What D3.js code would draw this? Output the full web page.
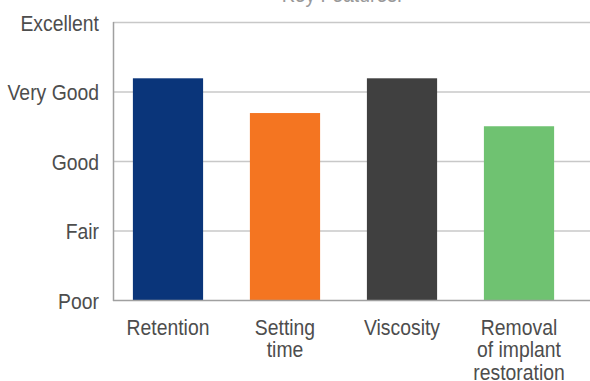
<!DOCTYPE html>
<html>
<head>
<meta charset="utf-8">
<script src="https://cdn.jsdelivr.net/npm/d3@7"></script>
<style>
  body { margin: 0; background: #fff; }
  text { font-family: "Liberation Sans", Arial, sans-serif; }
</style>
</head>
<body>
<svg id="chart" width="590" height="381"></svg>
<script>
// data (0 = Poor ... 4 = Excellent)
var categories = ["Retention", "Setting time", "Viscosity", "Removal of implant restoration"]
var labelLines = [["Retention"], ["Setting", "time"], ["Viscosity"], ["Removal", "of implant", "restoration"]]
var ratings = [3.19, 2.69, 3.19, 2.5]
var barColors = ["#0a357a", "#f47521", "#404040", "#6fc271"]
var tickLabels = ["Poor", "Fair", "Good", "Very Good", "Excellent"]
var title = "Key Features:"

var svg = d3.select("#chart")
var plotLeft = 113, plotRight = 574, plotTop = 22, plotBottom = 300
var squeeze = 0.88   // the original font is a condensed face

var x = d3.scaleBand()
  .domain(categories)
  .range([plotLeft, plotRight])
  .paddingInner(0.4)
  .paddingOuter(0.17)

var y = d3.scaleLinear()
  .domain([0, 4])
  .range([plotBottom, plotTop])

// title, mostly cut off at the top
svg.append("text")
  .attr("transform", "translate(342,1.5) scale(" + squeeze + ",1)")
  .attr("text-anchor", "middle")
  .style("font-size", "22px")
  .style("fill", "#999")
  .text(title)

// grid lines
svg.append("g")
  .selectAll("line")
  .data(d3.range(1, 5))
  .enter()
  .append("line")
    .attr("x1", plotLeft)
    .attr("x2", 590)
    .attr("y1", function (d) { return y(d) + 0.5 })
    .attr("y2", function (d) { return y(d) + 0.5 })
    .style("stroke", "#c8c8c8")
    .style("stroke-width", 1.5)

// bars
svg.append("g")
  .selectAll("rect")
  .data(ratings)
  .enter()
  .append("rect")
    .attr("x", function (d, i) { return x(categories[i]) })
    .attr("y", function (d) { return y(d) })
    .attr("width", x.bandwidth())
    .attr("height", function (d) { return y(0) - y(d) })
    .style("fill", function (d, i) { return barColors[i] })

// axis lines
svg.append("line")
  .attr("x1", plotLeft + 0.5).attr("x2", plotLeft + 0.5)
  .attr("y1", plotTop).attr("y2", plotBottom + 1)
  .style("stroke", "#a0a0a0")
  .style("stroke-width", 1.5)
svg.append("line")
  .attr("x1", plotLeft).attr("x2", 590)
  .attr("y1", plotBottom + 0.5).attr("y2", plotBottom + 0.5)
  .style("stroke", "#a0a0a0")
  .style("stroke-width", 1.5)

// y tick labels
svg.append("g")
  .selectAll("text")
  .data(tickLabels)
  .enter()
  .append("text")
    .attr("transform", function (d, i) { return "translate(99," + (y(i) + 8.5) + ") scale(" + squeeze + ",1)" })
    .attr("text-anchor", "end")
    .style("font-size", "22px")
    .style("fill", "#4d4d4d")
    .text(function (d) { return d })

// x labels
var xl = svg.append("g")
  .selectAll("text")
  .data(categories)
  .enter()
  .append("text")
    .attr("transform", function (d) { return "translate(" + (x(d) + x.bandwidth() / 2) + ",335) scale(" + squeeze + ",1)" })
    .attr("text-anchor", "middle")
    .style("font-size", "22px")
    .style("fill", "#4d4d4d")

xl.selectAll("tspan")
  .data(function (d, i) { return labelLines[i] })
  .enter()
  .append("tspan")
    .attr("x", 0)
    .attr("dy", function (d, j) { return j == 0 ? 0 : 22.5 })
    .text(function (d) { return d })
</script>
</body>
</html>
